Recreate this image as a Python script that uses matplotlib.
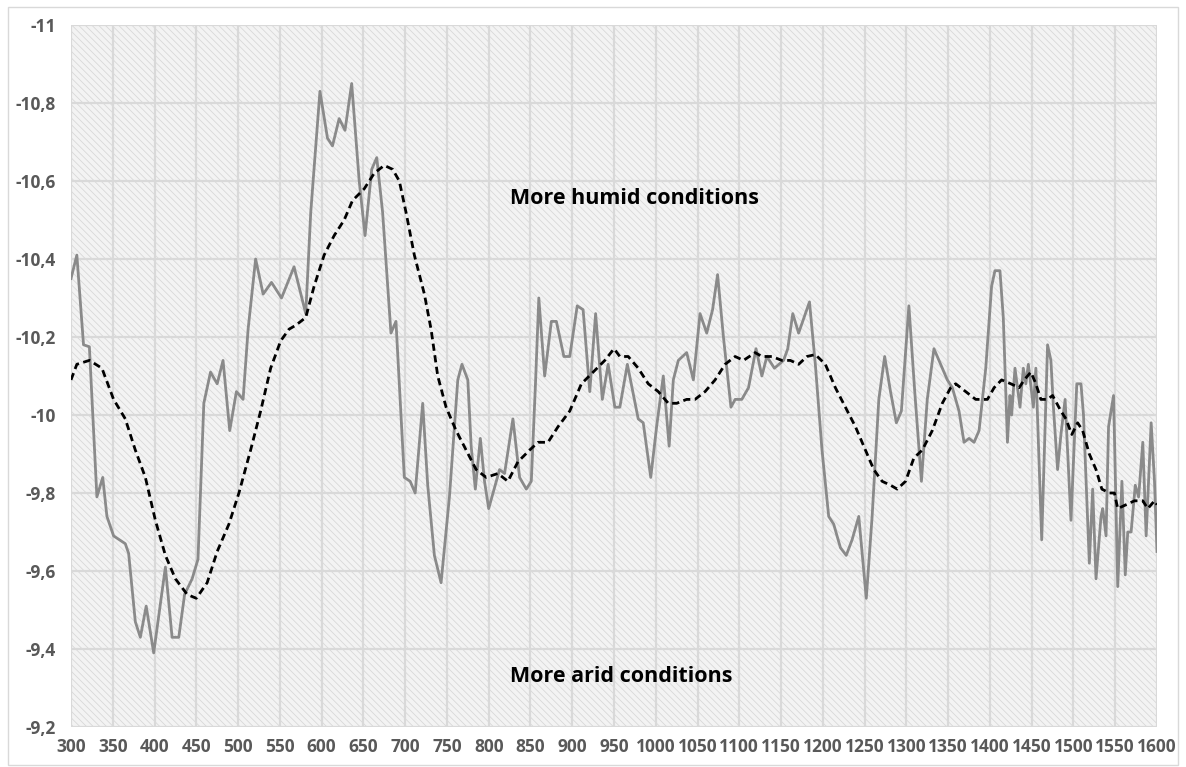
import matplotlib
matplotlib.use("Agg")
import matplotlib.pyplot as plt
from matplotlib.patches import Rectangle
from matplotlib.ticker import FuncFormatter, MultipleLocator

# raw record (grey)
raw_x = [300, 307, 315, 322, 331, 338, 343, 351, 365, 369, 377, 383, 390, 399,
         413, 421, 429, 436, 445, 452, 459, 467, 475, 482, 490, 498, 506, 512,
         521, 530, 540, 552, 567, 581, 587, 598, 607, 613, 621, 628, 636, 645,
         652, 660, 666, 673, 683, 689, 695, 699, 706, 712, 721, 727, 735, 743,
         753, 763, 768, 775, 779, 784, 790, 795, 800, 813, 819, 829, 837, 845,
         851, 856, 860, 867, 875, 881, 890, 897, 906, 913, 921, 928, 936, 943,
         951, 957, 966, 979, 985, 994, 1001, 1009, 1016, 1021, 1027, 1037, 1045,
         1053, 1061, 1068, 1074, 1081, 1090, 1095, 1103, 1111, 1120, 1127, 1133,
         1142, 1153, 1158, 1164, 1171, 1184, 1191, 1199, 1207, 1213, 1221, 1228,
         1235, 1243, 1252, 1259, 1267, 1274, 1281, 1288, 1294, 1303, 1310, 1318,
         1325, 1333, 1341, 1349, 1355, 1363, 1369, 1375, 1381, 1387, 1395, 1402,
         1406, 1412, 1416, 1421, 1424, 1426, 1430, 1436, 1440, 1443, 1446, 1452,
         1455, 1462, 1469, 1473, 1476, 1481, 1485, 1490, 1497, 1504, 1509, 1512,
         1519, 1523, 1527, 1533, 1535, 1539, 1542, 1548, 1553, 1558, 1562, 1565,
         1569, 1574, 1578, 1583, 1587, 1593, 1597, 1600]
raw_y = [-10.35, -10.41, -10.18, -10.175, -9.79, -9.84, -9.74, -9.69, -9.67, -9.645,
         -9.47, -9.43, -9.51, -9.39, -9.61, -9.43, -9.43, -9.54, -9.58, -9.63,
         -10.03, -10.11, -10.08, -10.14, -9.96, -10.06, -10.04, -10.22, -10.40,
         -10.31, -10.34, -10.30, -10.38, -10.26, -10.52, -10.83, -10.71, -10.69,
         -10.76, -10.73, -10.85, -10.60, -10.46, -10.63, -10.66, -10.52, -10.21,
         -10.24, -10.00, -9.84, -9.83, -9.80, -10.03, -9.82, -9.64, -9.57, -9.79,
         -10.09, -10.13, -10.09, -9.92, -9.81, -9.94, -9.83, -9.76, -9.86, -9.85,
         -9.99, -9.84, -9.81, -9.83, -10.08, -10.30, -10.10, -10.24, -10.24,
         -10.15, -10.15, -10.28, -10.27, -10.06, -10.26, -10.04, -10.13, -10.02,
         -10.02, -10.13, -9.99, -9.98, -9.84, -9.97, -10.10, -9.92, -10.09,
         -10.14, -10.16, -10.09, -10.26, -10.21, -10.27, -10.36, -10.20, -10.02,
         -10.04, -10.04, -10.07, -10.17, -10.10, -10.15, -10.12, -10.14, -10.17,
         -10.26, -10.21, -10.29, -10.13, -9.91, -9.74, -9.72, -9.66, -9.64,
         -9.68, -9.74, -9.53, -9.74, -10.04, -10.15, -10.06, -9.98, -10.01,
         -10.28, -10.06, -9.83, -10.04, -10.17, -10.13, -10.09, -10.07, -10.01,
         -9.93, -9.94, -9.93, -9.96, -10.12, -10.33, -10.37, -10.37, -10.25,
         -9.93, -10.05, -10.00, -10.12, -10.02, -10.12, -10.08, -10.13, -10.02,
         -10.12, -9.68, -10.18, -10.14, -10.02, -9.86, -9.95, -10.04, -9.73,
         -10.08, -10.08, -10.00, -9.62, -9.81, -9.58, -9.74, -9.76, -9.69,
         -9.97, -10.05, -9.56, -9.83, -9.59, -9.70, -9.70, -9.82, -9.79, -9.93,
         -9.69, -9.98, -9.83, -9.65]

# running mean (black dashed)
mean_x = [300, 307, 322, 337, 351, 365, 377, 389, 401, 413, 425, 439, 450, 463,
          475, 489, 501, 515, 527, 539, 551, 561, 569, 581, 591, 603, 615, 627,
          637, 651, 663, 675, 685, 693, 701, 711, 723, 731, 739, 749, 761, 773,
          785, 797, 811, 823, 835, 849, 859, 871, 883, 897, 911, 925, 939, 950,
          957, 967, 979, 991, 1003, 1015, 1025, 1037, 1047, 1059, 1071, 1083,
          1095, 1105, 1119, 1127, 1139, 1151, 1161, 1171, 1181, 1191, 1203,
          1215, 1227, 1239, 1251, 1261, 1271, 1281, 1289, 1299, 1309, 1319,
          1331, 1343, 1353, 1359, 1371, 1383, 1397, 1405, 1414, 1425, 1435,
          1441, 1449, 1455, 1461, 1469, 1475, 1485, 1491, 1498, 1505, 1511,
          1519, 1527, 1534, 1543, 1549, 1553, 1563, 1573, 1583, 1589, 1597, 1600]
mean_y = [-10.09, -10.13, -10.14, -10.12, -10.04, -9.99, -9.91, -9.84, -9.73,
          -9.64, -9.58, -9.54, -9.53, -9.57, -9.65, -9.72, -9.80, -9.91, -10.01,
          -10.12, -10.19, -10.22, -10.23, -10.25, -10.33, -10.41, -10.46, -10.50,
          -10.55, -10.58, -10.62, -10.64, -10.63, -10.60, -10.52, -10.41, -10.31,
          -10.22, -10.10, -10.02, -9.96, -9.91, -9.86, -9.84, -9.85, -9.83,
          -9.88, -9.91, -9.93, -9.93, -9.97, -10.01, -10.08, -10.11, -10.14,
          -10.17, -10.15, -10.15, -10.12, -10.08, -10.06, -10.03, -10.03, -10.04,
          -10.04, -10.06, -10.09, -10.13, -10.15, -10.14, -10.16, -10.15, -10.15,
          -10.14, -10.14, -10.13, -10.15, -10.155, -10.13, -10.07, -10.02, -9.97,
          -9.91, -9.86, -9.83, -9.82, -9.81, -9.83, -9.89, -9.91, -9.96, -10.03,
          -10.07, -10.08, -10.06, -10.04, -10.04, -10.07, -10.09, -10.08, -10.07,
          -10.09, -10.11, -10.08, -10.04, -10.04, -10.05, -10.01, -9.99, -9.95,
          -9.98, -9.96, -9.90, -9.86, -9.81, -9.80, -9.80, -9.76, -9.77, -9.78,
          -9.78, -9.76, -9.78, -9.77]

y_ticks = [-11, -10.8, -10.6, -10.4, -10.2, -10, -9.8, -9.6, -9.4, -9.2]

plt.rcParams["font.family"] = ["Open Sans", "DejaVu Sans"]
plt.rcParams["hatch.linewidth"] = 0.6

fig = plt.figure(figsize=(11.86, 7.67), dpi=100)
ax = fig.add_axes([71 / 1186, 1 - 727 / 767, 1086 / 1186, 702 / 767])

# light frame around the whole chart
fig.patches.append(Rectangle((8 / 1186, 2 / 767), 1170 / 1186, 758 / 767,
                             transform=fig.transFigure, fill=False,
                             edgecolor="#d9d9d9", lw=1))

# hatched plot area
ax.add_patch(Rectangle((0, 0), 1, 1, transform=ax.transAxes, facecolor="#f3f3f3",
                       edgecolor="#d8d8d8", hatch="\\\\\\\\\\", lw=0, zorder=0.1))

ax.plot(raw_x, raw_y, color="#8a8a8a", lw=2.0, zorder=3,
        solid_joinstyle="round")
ax.plot(mean_x, mean_y, color="black", lw=2.0, linestyle=(0, (2.6, 1.6)), zorder=4)

ax.set_xlim(300, 1600)
ax.set_ylim(-9.2, -11)
ax.xaxis.set_major_locator(MultipleLocator(50))
ax.set_yticks(y_ticks)
ax.yaxis.set_major_formatter(FuncFormatter(lambda v, p: f"{v:g}".replace(".", ",")))

ax.set_axisbelow(True)
ax.grid(True, color="#d9d9d9", lw=1.6)
for s in ax.spines.values():
    s.set_visible(False)
ax.tick_params(length=0, labelsize=12.5, labelcolor="#595959")
ax.tick_params(axis="y", pad=11)
ax.tick_params(axis="x", pad=8)
for lab in ax.get_xticklabels() + ax.get_yticklabels():
    lab.set_fontweight("bold")

ax.text(825, -10.556, "More humid conditions", fontsize=15.5, fontweight="bold",
        color="black", ha="left", va="center", zorder=5)
ax.text(825, -9.329, "More arid conditions", fontsize=15.5, fontweight="bold",
        color="black", ha="left", va="center", zorder=5)

fig.savefig("out.png", dpi=100)
